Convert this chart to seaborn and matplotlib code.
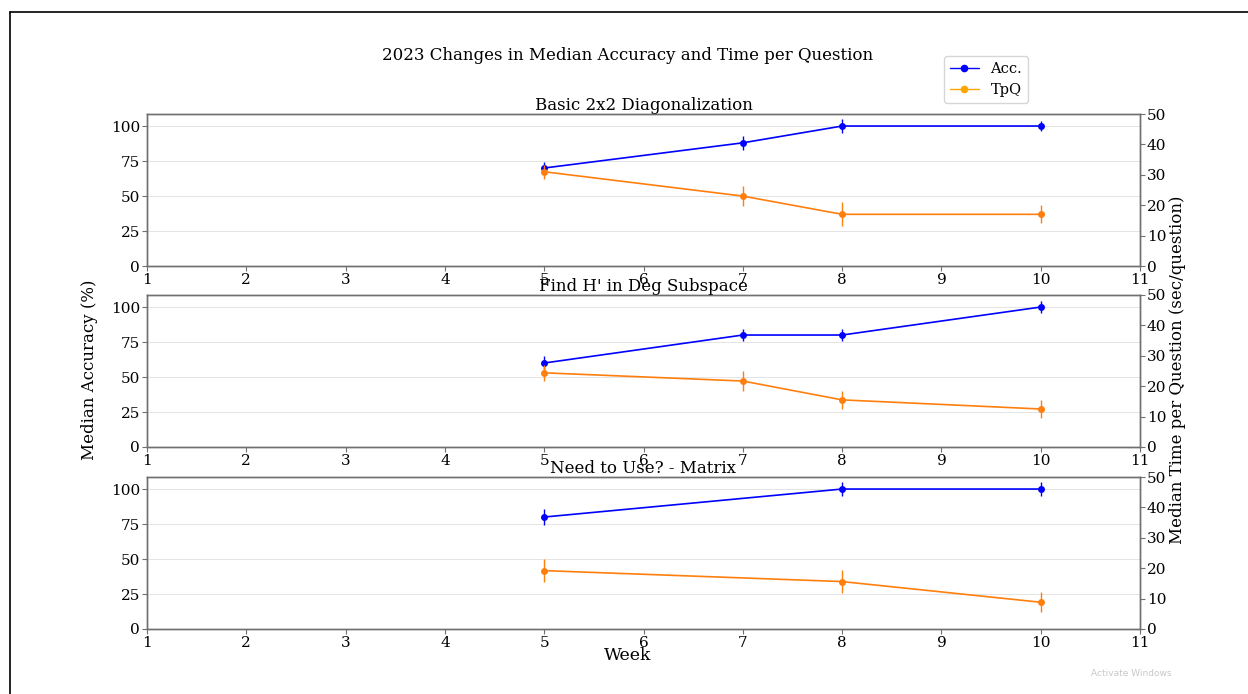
import matplotlib
matplotlib.use("Agg")
import matplotlib.pyplot as plt
from matplotlib.lines import Line2D
import seaborn as sns
import pandas as pd

# Panel titles
panels = ["Basic 2x2 Diagonalization", "Find H' in Deg Subspace", "Need to Use? - Matrix"]

# Weeks with data per panel
weeks_1 = [5, 7, 8, 10]
weeks_2 = [5, 7, 8, 10]
weeks_3 = [5, 8, 10]

# Median accuracy (%) and its error
acc_1 = [70, 88, 100, 100]
acc_err_1 = [4, 4.9, 4.8, 3.8]
acc_2 = [60, 80, 80, 100]
acc_err_2 = [5, 4.3, 4.3, 4.3]
acc_3 = [80, 100, 100]
acc_err_3 = [6, 5, 5]

# Median time per question (sec) and its error
tpq_1 = [31, 23, 17, 17]
tpq_err_1 = [2.3, 3.4, 3.9, 3.0]
tpq_2 = [24.4, 21.7, 15.5, 12.5]
tpq_err_2 = [2.7, 3.3, 2.9, 3.1]
tpq_3 = [19.2, 15.6, 8.8]
tpq_err_3 = [3.8, 3.7, 3.3]

sns.set_style("ticks")
plt.rcParams["font.family"] = ["DejaVu Serif"]
plt.rcParams["text.color"] = "black"
plt.rcParams["axes.labelcolor"] = "black"

fig = plt.figure(figsize=(12.48, 6.94), dpi=100)

# frame around the figure as in the screenshot
fig.add_artist(Line2D([10 / 1248, 10 / 1248], [0, 1 - 12 / 694], color="black", lw=1.2, transform=fig.transFigure))
fig.add_artist(Line2D([10 / 1248, 1], [1 - 12 / 694, 1 - 12 / 694], color="black", lw=1.2, transform=fig.transFigure))

left = 147 / 1248
width = (1140 - 147) / 1248
height = 152 / 694
bottoms = [1 - 266 / 694, 1 - 447 / 694, 1 - 629 / 694]

data = [
    (weeks_1, acc_1, acc_err_1, tpq_1, tpq_err_1),
    (weeks_2, acc_2, acc_err_2, tpq_2, tpq_err_2),
    (weeks_3, acc_3, acc_err_3, tpq_3, tpq_err_3),
]

spine_col = "#707070"
acc_col = "#0000FF"
tpq_col = "#ff7f0e"

for title, bottom, (wk, acc, acc_err, tpq, tpq_err) in zip(panels, bottoms, data):
    ax = fig.add_axes([left, bottom, width, height])
    ax2 = ax.twinx()

    df = pd.DataFrame({"Week": wk, "Acc": acc, "TpQ": tpq})

    sns.lineplot(data=df, x="Week", y="Acc", ax=ax, color=acc_col, marker="o",
                 markersize=5, markeredgewidth=0, linewidth=1.2)
    ax.errorbar(wk, acc, yerr=acc_err, fmt="none", ecolor=acc_col, elinewidth=1.0)

    sns.lineplot(data=df, x="Week", y="TpQ", ax=ax2, color=tpq_col, marker="o",
                 markersize=5, markeredgewidth=0, linewidth=1.2)
    ax2.errorbar(wk, tpq, yerr=tpq_err, fmt="none", ecolor=tpq_col, elinewidth=1.0)

    ax.set_xlim(1, 11)
    ax.set_xticks(range(1, 12))
    ax.set_ylim(0, 108.6)
    ax.set_yticks([0, 25, 50, 75, 100])
    ax2.set_ylim(0, 50)
    ax2.set_yticks([0, 10, 20, 30, 40, 50])

    ax.grid(axis="y", color="#e4e4e4", linewidth=0.7)
    ax.set_axisbelow(True)
    ax.set_xlabel("")
    ax.set_ylabel("")
    ax2.set_ylabel("")
    ax.set_title(title, fontsize=12, pad=1.5, color="black")

    for a in (ax, ax2):
        for s in a.spines.values():
            s.set_color(spine_col)
            s.set_linewidth(1.0)
        a.tick_params(labelsize=11, color=spine_col, labelcolor="black", length=3.5, width=0.8, pad=1.5)

fig.suptitle("2023 Changes in Median Accuracy and Time per Question", fontsize=12,
             x=0.503, y=1 - 55 / 694, va="center")
fig.text(89 / 1248, 1 - 370 / 694, "Median Accuracy (%)", rotation=90, fontsize=12,
         ha="center", va="center")
fig.text(1178 / 1248, 1 - 370 / 694, "Median Time per Question (sec/question)", rotation=90,
         fontsize=12, ha="center", va="center")
fig.text(628 / 1248, 1 - 656 / 694, "Week", fontsize=12.5, ha="center", va="center")

handles = [
    Line2D([], [], color="blue", marker="o", markersize=4.5, linewidth=1.0),
    Line2D([], [], color="orange", marker="o", markersize=4.5, linewidth=1.0),
]
fig.legend(handles, ["Acc.", "TpQ"], loc="upper right", bbox_to_anchor=(1028 / 1248, 1 - 56 / 694),
           fontsize=10.5, frameon=True, handlelength=2.0, borderaxespad=0)

fig.text(1131 / 1248, 1 - 674 / 694, "Activate Windows", fontsize=6.5, color="#c8c8c8",
         ha="center", va="center", family="DejaVu Sans")

fig.savefig("out.png", dpi=100)
